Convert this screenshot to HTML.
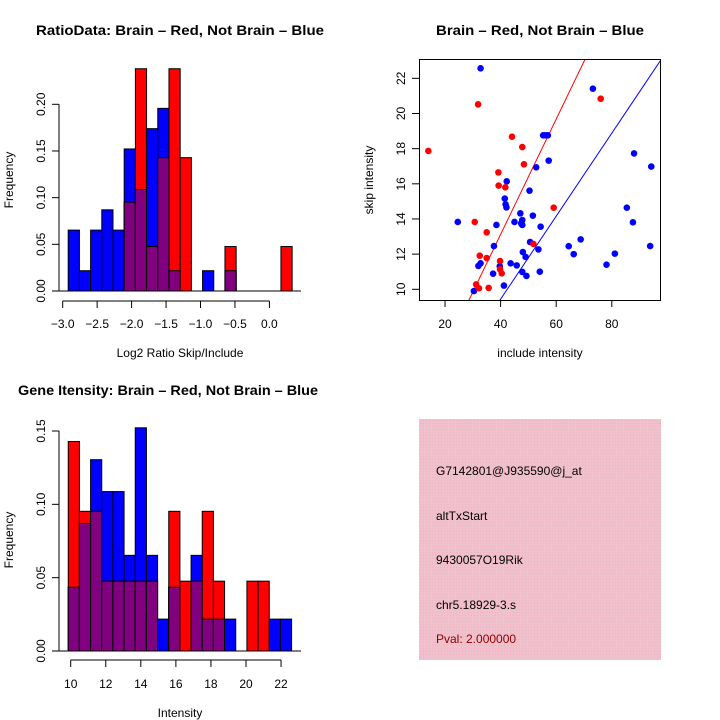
<!DOCTYPE html>
<html><head><meta charset="utf-8"><style>
html,body{margin:0;padding:0;background:#fff}
svg{display:block;font-family:"Liberation Sans",sans-serif}
</style></head><body>
<svg id="c" width="720" height="720" viewBox="0 0 720 720" xmlns="http://www.w3.org/2000/svg">
<defs>
<pattern id="hatch" width="3" height="3" patternUnits="userSpaceOnUse">
<rect width="3" height="3" fill="#efc1cc"/><rect width="1" height="1" fill="#f6aec0"/>
</pattern>
</defs>
</svg>
<script>
// ---- data ----
// Ratio histogram (20 bins from -2.92, width 0.1625)
const ratioBlue = [3,1,3,4,3,7,5,8,9,1,0,0,1,0,1,0,0,0,0,0];
const ratioRed  = [0,0,0,0,0,2,5,1,3,5,3,0,0,0,1,0,0,0,0,1];
const ratioStart = -2.92, ratioWidth = 0.1625;
const ratioXTicks = [-3.0,-2.5,-2.0,-1.5,-1.0,-0.5,0.0];
const ratioXLabels = ["\u22123.0","\u22122.5","\u22122.0","\u22121.5","\u22121.0","\u22120.5","0.0"];
const ratioYTicks = [0,0.05,0.10,0.15,0.20];
const ratioYLabels = ["0.00","0.05","0.10","0.15","0.20"];
// Intensity histogram (20 bins from 9.86, width 0.637)
const intBlue = [2,4,6,5,5,3,7,3,1,2,0,3,1,1,1,0,0,0,1,1];
const intRed  = [3,2,2,1,1,1,1,1,0,2,1,1,2,1,0,0,1,1,0,0];
const intStart = 9.86, intWidth = 0.637;
const intXTicks = [10,12,14,16,18,20,22];
const intYTicks = [0,0.05,0.10,0.15];
const intYLabels = ["0.00","0.05","0.10","0.15"];
// Scatter
const redX = [14.0,31.9,47.8,44.1,48.4,39.2,39.3,41.7,30.7,35.0,32.5,35.0,39.8,39.8,40.4,31.2,32.2,35.7,76.0,59.1,51.8];
const redY = [17.87,20.52,18.09,18.68,17.11,16.65,15.9,15.8,13.83,13.24,11.91,11.78,11.61,11.14,10.91,10.28,10.06,10.08,20.84,14.64,12.58];
const blueX = [32.8,73.2,55.3,56.1,57.0,57.3,52.8,88.0,94.2,42.2,50.4,41.5,41.8,42.1,85.4,47.1,51.6,24.6,38.5,45.0,47.8,47.4,47.8,54.4,87.6,37.6,50.6,53.6,48.0,49.0,64.5,66.3,68.8,81.1,93.8,78.1,32.0,32.8,43.6,45.8,39.7,37.3,47.8,49.3,54.1,41.2,30.4];
const blueY = [22.57,21.41,18.76,18.76,18.76,17.32,16.94,17.73,16.98,16.14,15.61,15.16,14.83,14.66,14.64,14.32,14.19,13.83,13.66,13.83,13.94,13.75,13.66,13.56,13.81,12.46,12.69,12.27,12.12,11.84,12.45,12.0,12.84,12.03,12.46,11.4,11.33,11.48,11.48,11.36,11.31,10.89,10.99,10.76,11.0,10.21,9.9];
const redSlope = 0.328, blueSlope = 0.236;
const scXTicks = [20,40,60,80];
const scYTicks = [10,12,14,16,18,20,22];
const infoLines = ["G7142801@J935590@j_at","altTxStart","9430057O19Rik","chr5.18929-3.s"];
const pvalText = "Pval: 2.000000";

const NS="http://www.w3.org/2000/svg";
const svg=document.getElementById('c');
function mk(tag,attrs,parent){const e=document.createElementNS(NS,tag);for(const k in attrs)e.setAttribute(k,attrs[k]);(parent||svg).appendChild(e);return e;}
function txt(s,x,y,opts,parent){const e=mk('text',Object.assign({x:x,y:y,'font-size':12,'text-anchor':'middle',fill:'#000'},opts||{}),parent);e.textContent=s;return e;}

function hist(g,blue,red,start,width,nB,nR,xs,ys,y0){
  for(let i=0;i<blue.length;i++){
    const x0=xs(start+i*width),x1=xs(start+(i+1)*width);
    const fb=blue[i]/nB, fr=red[i]/nR;
    if(blue[i]>0){const r=mk('rect',{x:x0,y:ys(fb),width:x1-x0,height:y0-ys(fb),fill:'#0000ff',stroke:'#000','stroke-width':1},g);
      
      }
    if(red[i]>0){const r=mk('rect',{x:x0,y:ys(fr),width:x1-x0,height:y0-ys(fr),fill:'#ff0000',stroke:'#000','stroke-width':1},g);
      
      }
    const m=Math.min(fb,fr);
    if(m>0){const r=mk('rect',{x:x0,y:ys(m),width:x1-x0,height:y0-ys(m),fill:'#800080',stroke:'#000','stroke-width':1},g);
      
      }
  }
}

// ---- Panel 1: ratio histogram ----
{
const g=mk('g',{});


const xs=v=>62.7+(v+3)*68.9, ys=v=>291-v*933.5;
hist(g,ratioBlue,ratioRed,ratioStart,ratioWidth,46,21,xs,ys,291);
mk('line',{x1:59,y1:291,x2:301,y2:291,stroke:'#000'},g);
mk('line',{x1:59,y1:ys(0),x2:59,y2:ys(0.2),stroke:'#000'},g);
ratioYTicks.forEach((t,i)=>{mk('line',{x1:52,y1:ys(t),x2:59,y2:ys(t),stroke:'#000'},g);
  txt(ratioYLabels[i],0,0,{transform:`translate(45,${ys(t)}) rotate(-90)`},g);});
mk('line',{x1:xs(-3),y1:301,x2:xs(0),y2:301,stroke:'#000'},g);
ratioXTicks.forEach((t,i)=>{mk('line',{x1:xs(t),y1:301,x2:xs(t),y2:308,stroke:'#000'},g);
  txt(ratioXLabels[i],xs(t),328,{},g);});
const t=txt("RatioData: Brain \u2013 Red, Not Brain \u2013 Blue",180,35,{'font-size':14,'font-weight':'bold',textLength:288,lengthAdjust:'spacingAndGlyphs'},g);

const xl=txt("Log2 Ratio Skip/Include",180,357,{},g);

const yl=txt("Frequency",0,0,{transform:'translate(13,180) rotate(-90)'},g);

}

// ---- Panel 2: scatter ----
{
const g=mk('g',{});


const xs=v=>445+(v-20)*2.78, ys=v=>289.3-(v-10)*17.58;
const clip=mk('clipPath',{id:'sc'},g);mk('rect',{x:419,y:59,width:242,height:241},clip);
const lg=mk('g',{'clip-path':'url(#sc)'},g);
const rl=mk('line',{x1:xs(0),y1:ys(0),x2:xs(100),y2:ys(redSlope*100),stroke:'#ff0000','stroke-width':1},lg);

const bl=mk('line',{x1:xs(0),y1:ys(0),x2:xs(100),y2:ys(blueSlope*100),stroke:'#0000ff','stroke-width':1},lg);

blueX.forEach((x,i)=>{const c=mk('circle',{cx:xs(x),cy:ys(blueY[i]),r:3.3,fill:'#0000ff'},lg);
  
  });
redX.forEach((x,i)=>{const c=mk('circle',{cx:xs(x),cy:ys(redY[i]),r:3.3,fill:'#ff0000'},lg);
  
  });
mk('rect',{x:419.5,y:59.5,width:241,height:241,fill:'none',stroke:'#000'},g);
scXTicks.forEach(t=>{mk('line',{x1:xs(t),y1:300,x2:xs(t),y2:307,stroke:'#000'},g);txt(String(t),xs(t),328,{},g);});
scYTicks.forEach(t=>{mk('line',{x1:412,y1:ys(t),x2:419,y2:ys(t),stroke:'#000'},g);
  txt(String(t),0,0,{transform:`translate(405,${ys(t)}) rotate(-90)`},g);});
const t=txt("Brain \u2013 Red, Not Brain \u2013 Blue",540,35,{'font-size':14,'font-weight':'bold',textLength:208,lengthAdjust:'spacingAndGlyphs'},g);

const xl=txt("include intensity",540,357,{},g);

const yl=txt("skip intensity",0,0,{transform:'translate(373,180) rotate(-90)'},g);

}

// ---- Panel 3: intensity histogram ----
{
const g=mk('g',{});


const xs=v=>70.7+(v-10)*17.53, ys=v=>651-v*1466.7;
hist(g,intBlue,intRed,intStart,intWidth,46,21,xs,ys,651);
mk('line',{x1:59,y1:651,x2:301,y2:651,stroke:'#000'},g);
mk('line',{x1:59,y1:ys(0),x2:59,y2:ys(0.15),stroke:'#000'},g);
intYTicks.forEach((t,i)=>{mk('line',{x1:52,y1:ys(t),x2:59,y2:ys(t),stroke:'#000'},g);
  txt(intYLabels[i],0,0,{transform:`translate(45,${ys(t)}) rotate(-90)`},g);});
mk('line',{x1:xs(10),y1:660,x2:xs(22),y2:660,stroke:'#000'},g);
intXTicks.forEach(t=>{mk('line',{x1:xs(t),y1:660,x2:xs(t),y2:667,stroke:'#000'},g);txt(String(t),xs(t),688,{},g);});
const t=txt("Gene Itensity: Brain \u2013 Red, Not Brain \u2013 Blue",168,395,{'font-size':14,'font-weight':'bold',textLength:300,lengthAdjust:'spacingAndGlyphs'},g);

const xl=txt("Intensity",180,717,{},g);

const yl=txt("Frequency",0,0,{transform:'translate(13,540) rotate(-90)'},g);

}

// ---- Panel 4: info box ----
{
const g=mk('g',{});


mk('rect',{x:419,y:419,width:242,height:241,fill:'url(#hatch)'},g);
const ys=[475,520,564,609];
infoLines.forEach((s,i)=>{const e=txt(s,436,ys[i],{'text-anchor':'start'},g);
  
  });
const p=txt(pvalText,436,643,{'text-anchor':'start',fill:'#8b0000'},g);


}
</script>
</body></html>
